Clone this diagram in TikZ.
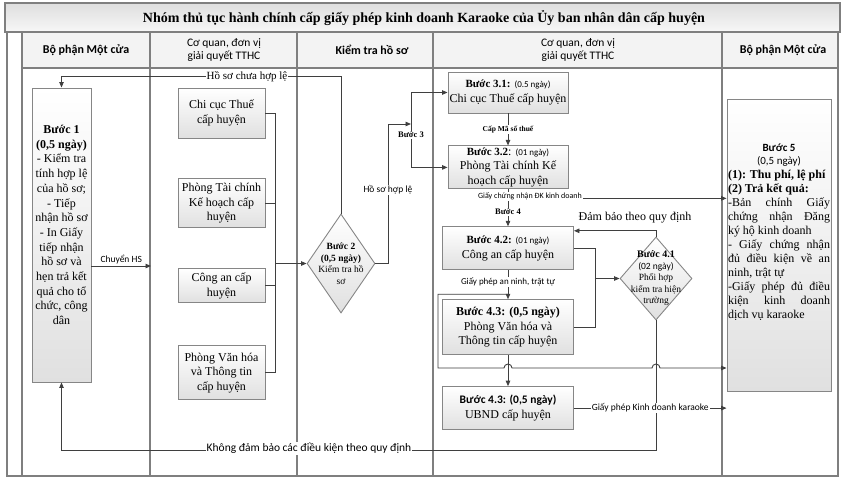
\documentclass[tikz,border=0pt]{standalone}
\usepackage{fontspec}
\setmainfont{Liberation Serif}
\setsansfont{Carlito}
\usetikzlibrary{arrows.meta,positioning,shapes.geometric,calc}
\setlength{\parindent}{0pt}
\hyphenpenalty=10000
\tolerance=9999
\definecolor{ink}{HTML}{3F3F3F}
\definecolor{lanegray}{HTML}{7F7F7F}
\definecolor{boxgray}{HTML}{868686}
\definecolor{boxshade}{HTML}{E0E0E0}
\definecolor{headbg}{HTML}{F3F3F3}
\tikzset{
  laneline/.style={draw=lanegray, line width=1.2pt},
  titletxt/.style={font=\bfseries\fontsize{14}{16}\selectfont},
  headtxt/.style={font=\sffamily\fontsize{11.5}{13.5}\selectfont, align=center},
  headbold/.style={headtxt, font=\sffamily\bfseries\fontsize{12}{14}\selectfont},
  unitbox/.style={draw=boxgray, line width=0.9pt, top color=white, bottom color=boxshade,
                  align=center, inner sep=1pt, font=\fontsize{12}{14.5}\selectfont},
  decbox/.style={diamond, draw=boxgray, line width=0.9pt, top color=white,
                 bottom color=boxshade, inner sep=0pt},
  steptxt/.style={align=center, font=\fontsize{12}{14.7}\selectfont, inner sep=0pt},
  dectxt/.style={align=center, font=\fontsize{9.5}{11.5}\selectfont, inner sep=0pt},
  restxt/.style={text width=102pt, align=justify, font=\fontsize{12}{14}\selectfont, inner sep=0pt},
  arr/.style={-{Triangle[length=5.5pt, width=4.5pt]}, draw=ink, line width=0.9pt},
  wire/.style={draw=ink, line width=0.9pt},
  lbl/.style={font=\sffamily\fontsize{9.5}{11}\selectfont, fill=white, inner sep=1pt},
  minilbl/.style={lbl, font=\sffamily\fontsize{8}{9.5}\selectfont},
  serlbl/.style={lbl, font=\fontsize{11}{13}\selectfont},
  boldlbl/.style={lbl, font=\bfseries\fontsize{8.5}{10}\selectfont},
}

\begin{document}
\begin{tikzpicture}[x=1pt, y=1pt]
\useasboundingbox (0,0) rectangle (848,-480);

\draw[laneline, top color=black!13, bottom color=black!3] (5,-3) rectangle (840,-32);
\node[titletxt] (title) at (424,-18) {Nhóm thủ tục hành chính cấp giấy phép kinh doanh Karaoke của Ủy ban nhân dân cấp huyện};
\fill[headbg] (22,-32) rectangle (838,-68);
\draw[laneline] (7,-32) rectangle (838,-476);
\draw[laneline] (22,-68) -- (838,-68);
\foreach \x in {22,150,297,433,722} \draw[laneline] (\x,-32) -- (\x,-476);

\node[headbold] (h1) at (86,-50) {Bộ phận Một cửa};
\node[headtxt] (h2) at (224,-50) {Cơ quan, đơn vị\\giải quyết TTHC};
\node[headbold] (h3) at (372,-50) {Kiểm tra hồ sơ};
\node[headtxt] (h4) at (578,-50) {Cơ quan, đơn vị\\giải quyết TTHC};
\node[headbold] (h5) at (783,-50) {Bộ phận Một cửa};

\node[unitbox, minimum width=59pt, minimum height=294pt] (step1) at (61.5,-235) {};
\node[steptxt] (step1txt) at ([yshift=10pt]step1.center) {\textbf{Bước 1}\\\textbf{(0,5 ngày)}\\- Kiểm tra\\tính hợp lệ\\của hồ sơ;\\- Tiếp\\nhận hồ sơ\\- In Giấy\\tiếp nhận\\hồ sơ và\\hẹn trả kết\\quả cho tổ\\chức, công\\dân};

\node[unitbox, minimum width=87pt, minimum height=50pt] (tax) at (221.5,-113) {Chi cục Thuế\\cấp huyện};
\node[unitbox, minimum width=87pt, minimum height=49pt, below=40pt of tax] (fin) {Phòng Tài chính\\Kế hoạch cấp\\huyện};
\node[unitbox, minimum width=87pt, minimum height=34pt, below=40pt of fin] (pol) {Công an cấp\\huyện};
\node[unitbox, minimum width=87pt, minimum height=54pt, below=42pt of pol] (cul) {Phòng Văn hóa\\và Thông tin\\cấp huyện};

\node[decbox, minimum width=68pt, minimum height=99pt] (chk) at (341,-263.5) {};
\node[dectxt] (chktxt) at (chk) {\textbf{Bước 2}\\\textbf{(0,5 ngày)}\\Kiểm tra hồ\\sơ};

\node[unitbox, minimum width=120pt, minimum height=41pt] (s31) at (508,-92.5) {\textbf{\fontsize{11}{13}\selectfont Bước 3.1:} {\sffamily\fontsize{9}{11}\selectfont (0.5 ngày)}\\Chi cục Thuế cấp huyện};
\node[unitbox, minimum width=120pt, minimum height=43pt, below=32pt of s31] (s32) {\textbf{\fontsize{11}{13}\selectfont Bước 3.2}: {\sffamily\fontsize{9}{11}\selectfont (01 ngày)}\\Phòng Tài chính Kế\\hoạch cấp huyện};
\node[unitbox, minimum width=131pt, minimum height=43pt, below=37pt of s32] (s42) {\textbf{\fontsize{11}{13}\selectfont Bước 4.2:} {\sffamily\fontsize{9}{11}\selectfont (01 ngày)}\\Công an cấp huyện};
\node[unitbox, minimum width=131pt, minimum height=55pt, below=29pt of s42] (s43) {\textbf{Bước 4.3: (0,5 ngày)}\\Phòng Văn hóa và\\Thông tin cấp huyện};
\node[unitbox, minimum width=131pt, minimum height=43pt, below=31pt of s43] (s44) {{\sffamily\bfseries\fontsize{11.5}{13.5}\selectfont Bước 4.3: (0,5 ngày)}\\UBND cấp huyện};

\node[decbox, minimum width=72pt, minimum height=83pt] (d41) at (656,-278.5) {};
\node[dectxt] (d41txt) at (d41) {\textbf{\fontsize{10}{11.5}\selectfont Bước 4.1}\\{\sffamily (02 ngày)}\\Phối hợp\\kiểm tra hiện\\trường};

\node[unitbox, minimum width=104pt, minimum height=292pt] (step5) at (779,-245) {};
\node[restxt] (step5txt) at ([yshift=13pt]step5.center) {{\centering\sffamily\bfseries\fontsize{11}{13.5}\selectfont Bước 5\par\mdseries (0,5 ngày)\par}\textbf{(1): Thu phí, lệ phí}\par\textbf{(2) Trả kết quả:}\par -Bản chính Giấy\linebreak chứng nhận Đăng\linebreak ký hộ kinh doanh\par - Giấy chứng nhận\linebreak đủ điều kiện về an\linebreak ninh, trật tự\par -Giấy phép đủ điều\linebreak kiện kinh doanh\linebreak dịch vụ karaoke};

\coordinate (hsin) at (151,-266);
\draw[arr] (step1.east |- hsin) -- node[above, font=\sffamily\fontsize{9.5}{11}\selectfont, inner sep=2pt] {Chuyển HS} (hsin);

\coordinate (jn2) at ($(tax.east |- chk.west)+(10,0)$);
\foreach \n in {tax,fin,pol,cul} \draw[wire] (\n.east) -| (jn2);
\draw[arr] (jn2) -- (chk.west);

\coordinate (back1) at ($(step1.north)+(0,11)$);
\draw[arr] (chk.north) |- (back1) -- (step1.north);
\node[serlbl] (retlbl) at (247,-77) {Hồ sơ chưa hợp lệ};

\coordinate (b3) at (411,-124);
\draw[arr] (chk.east) -- ++(13,0) |- (b3);
\draw[arr] (b3) |- (s31.west);
\draw[arr] (b3) |- (s32.west);
\node[lbl] (oklbl) at (388,-190) {Hồ sơ hợp lệ};
\node[boldlbl] (b3lbl) at (411,-135) {Bước 3};

\draw[arr] (s31) -- node[boldlbl, font=\bfseries\fontsize{7.5}{8.5}\selectfont] {Cấp Mã số thuế} (s32);
\draw[arr] (s32) -- node[boldlbl, pos=0.6] {Bước 4} (s42);
\coordinate (gcn) at ($(s32.south)+(0,-9)$);
\draw[arr] (gcn) -- (gcn -| step5.west);
\node[minilbl] (gcnlbl) at (530,-196.5) {Giấy chứng nhận ĐK kinh doanh};

\draw[arr] (s42) -- node[lbl, font=\sffamily\fontsize{9}{10.5}\selectfont, pos=0.4] {Giấy phép an ninh, trật tự} (s43);
\coordinate (jn4) at ($(s42.east |- d41.west)+(21,0)$);
\draw[wire] (s42.east) -| (jn4);
\draw[wire] (s43.east) -| (jn4);
\draw[arr] (jn4) -- (d41.west);

\coordinate (ok4) at ($(s42.east)+(0,17.5)$);
\draw[arr] (d41.north) |- (ok4);
\node[font=\fontsize{12}{14}\selectfont] (ok4lbl) at (635,-218) {Đảm bảo theo quy định};

\coordinate (back2) at ($(step1.south)+(0,-68)$);
\draw[arr] (d41.south) |- (back2) -- (step1.south);
\node[lbl, font=\sffamily\fontsize{11.5}{13}\selectfont] (faillbl) at (309,-448.5) {Không đảm bảo các điều kiện theo quy định};

\coordinate (anp) at ($(s43.north)+(0,5)$);
\coordinate (r2) at (step5.west |- 0,-368);
\draw[arr] (anp) -- ++(-70,0) |- ($(s44.north |- r2)+(-4,0)$) arc[start angle=180, end angle=0, radius=4pt] -- ($(d41.south |- r2)+(-4,0)$) arc[start angle=180, end angle=0, radius=4pt] -- (r2);
\draw[arr] (s43) -- (s44);
\draw[arr] (s44.east) -- node[lbl] {Giấy phép Kinh doanh karaoke} (s44.east -| step5.west);

\end{tikzpicture}
\end{document}
